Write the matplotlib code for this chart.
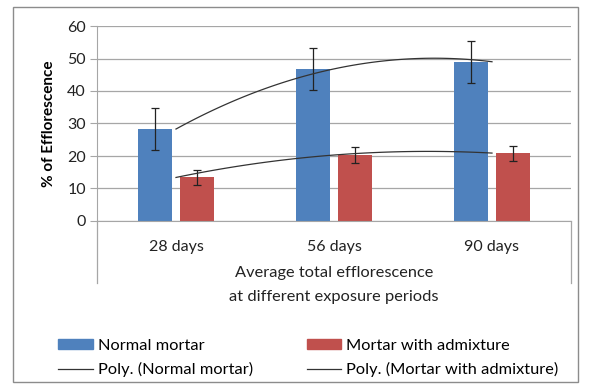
import numpy as np
import matplotlib.pyplot as plt
from matplotlib.patches import Rectangle
from matplotlib.lines import Line2D

# values
periods = ['28 days', '56 days', '90 days']
normal = [28.3, 46.8, 49.0]
normal_err = [6.5, 6.4, 6.5]
admix = [13.4, 20.3, 20.9]
admix_err = [2.4, 2.4, 2.3]

blue = '#4F81BD'
red = '#C0504D'
grey = '#A6A6A6'

plt.rcParams['font.family'] = ['Lato', 'DejaVu Sans']

W, H = 590, 391
fig = plt.figure(figsize=(W / 100, H / 100), dpi=100)

def fx(px):
    return px / W

def fy(py):
    return 1 - py / H

ax = fig.add_axes([fx(97), fy(221), fx(571) - fx(97), fy(26) - fy(221)])

x = np.arange(len(periods))
w = 0.215
off = 0.13
ax.bar(x - off, normal, w, color=blue, yerr=normal_err,
       error_kw=dict(ecolor='#222222', elinewidth=0.9, capsize=3, capthick=0.9))
ax.bar(x + off, admix, w, color=red, yerr=admix_err,
       error_kw=dict(ecolor='#222222', elinewidth=0.9, capsize=3, capthick=0.9))

# 2nd order polynomial trendlines (Excel style, drawn at category centres)
xs = np.linspace(x[0], x[-1], 100)
for vals in (normal, admix):
    c = np.polyfit(x, vals, 2)
    ax.plot(xs, np.polyval(c, xs), color='#333333', lw=0.9)

ax.set_xlim(-0.5, len(periods) - 0.5)
ax.set_ylim(0, 60)
ax.set_yticks(range(0, 61, 10))
ax.yaxis.grid(True, color=grey, lw=0.9)
ax.set_axisbelow(True)
for s in ('top', 'right'):
    ax.spines[s].set_visible(False)
for s in ('left', 'bottom'):
    ax.spines[s].set_color(grey)
ax.tick_params(axis='y', length=5, color=grey, labelsize=11.5, pad=3, labelcolor='#222222')
ax.set_xticks(x)
ax.set_xticklabels(periods, fontsize=11.5, color='#222222')
ax.tick_params(axis='x', length=0, pad=14)
ax.set_ylabel('% of Efflorescence', fontsize=11, fontweight='bold', labelpad=8)

# category axis side lines and the axis title
for px in (97, 571):
    fig.add_artist(Line2D([fx(px), fx(px)], [fy(221), fy(283)], color=grey, lw=0.9))
fig.text(fx(334), fy(273), 'Average total efflorescence', ha='center', va='center', fontsize=11.8, color='#222222')
fig.text(fx(334), fy(297), 'at different exposure periods', ha='center', va='center', fontsize=11.8, color='#222222')

# legend
handles = [Rectangle((0, 0), 1, 1, color=blue),
           Line2D([], [], color='#333333', lw=0.9),
           Rectangle((0, 0), 1, 1, color=red),
           Line2D([], [], color='#333333', lw=0.9)]
labels = ['Normal mortar', 'Poly. (Normal mortar)',
          'Mortar with admixture', 'Poly. (Mortar with admixture)']
fig.legend(handles, labels, ncol=2, loc='upper left', bbox_to_anchor=(fx(50), fy(331)),
           frameon=False, fontsize=11.8, handlelength=2.1, handleheight=0.55,
           columnspacing=3.3, handletextpad=0.3, labelspacing=0.55, borderpad=0)

# outer chart border
fig.add_artist(Rectangle((fx(13), fy(382)), fx(578) - fx(13), fy(7) - fy(382),
                         fill=False, edgecolor='#8C8C8C', lw=1.0))

fig.savefig('out.png', dpi=100)
